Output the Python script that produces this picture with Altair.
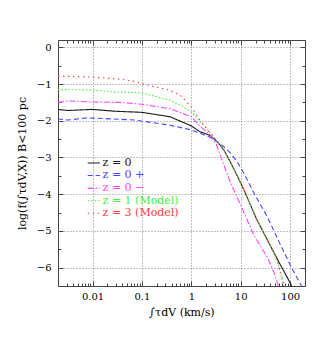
import altair as alt
import pandas as pd

# ---------------- data ----------------
series = ["z = 0", "z = 0 +", "z = 0 \u2212", "z = 1 (Model)", "z = 3 (Model)"]
colors = ["#1a1a1a", "#4646ff", "#ff46ff", "#46f046", "#ff4040"]
dashes = [[1, 0], [5, 3], [6, 2, 1.5, 2], [1.5, 2], [1.5, 3.5]]

x_z0 = [0.002, 0.00316, 0.01, 0.028, 0.1, 0.37, 1.0, 1.5, 2.4, 3.3, 4.5, 6.2, 8.5, 11.5, 21, 40, 65, 87, 102, 107]
y_z0 = [-1.69, -1.72, -1.69, -1.74, -1.77, -1.89, -2.14, -2.30, -2.40, -2.56, -2.78, -3.13, -3.50, -3.87, -4.68, -5.41, -5.95, -6.26, -6.44, -6.50]

x_zp = [0.002, 0.00316, 0.0079, 0.0178, 0.072, 0.37, 1.0, 1.5, 2.4, 3.3, 4.5, 6.2, 8.5, 11.5, 18.2, 34.7, 65, 102, 162, 170]
y_zp = [-1.95, -1.98, -1.92, -1.94, -1.98, -2.12, -2.25, -2.34, -2.45, -2.57, -2.70, -2.88, -3.12, -3.42, -3.95, -4.62, -5.40, -5.95, -6.45, -6.50]

x_zm = [0.002, 0.00316, 0.01, 0.039, 0.1, 0.37, 1.0, 1.5, 2.4, 3.16, 3.9, 5.0, 6.2, 10, 18.2, 34.7, 46.8, 55, 57.5]
y_zm = [-1.50, -1.46, -1.49, -1.50, -1.55, -1.67, -1.89, -2.15, -2.38, -2.62, -2.95, -3.35, -3.68, -4.30, -5.10, -5.72, -6.12, -6.40, -6.50]

x_z1 = [0.002, 0.01, 0.028, 0.072, 0.1, 0.37, 0.69, 1.0, 1.2, 1.5, 2.0, 2.8, 3.3, 4.5, 6.2, 8.5, 11.5, 21, 40, 55, 68, 74]
y_z1 = [-1.15, -1.16, -1.22, -1.23, -1.24, -1.44, -1.62, -1.76, -1.86, -2.02, -2.20, -2.43, -2.56, -2.78, -3.13, -3.50, -3.87, -4.68, -5.41, -5.82, -6.30, -6.50]

x_z3 = [0.002, 0.00316, 0.01, 0.039, 0.072, 0.1, 0.37, 0.6, 1.0, 1.2, 1.5, 2.0, 2.8, 3.3, 4.5, 6.2, 8.5, 11.5, 21, 40, 55, 70, 76]
y_z3 = [-0.79, -0.79, -0.81, -0.87, -0.93, -0.99, -1.17, -1.31, -1.62, -1.78, -1.98, -2.20, -2.43, -2.56, -2.78, -3.13, -3.50, -3.87, -4.68, -5.41, -5.80, -6.30, -6.50]

x_major = [0.01, 0.1, 1, 10, 100]
x_minor = [k * 10.0 ** d for d in range(-3, 3) for k in range(2, 10) if 0.002 <= k * 10.0 ** d <= 200]
y_major = [-6, -5, -4, -3, -2, -1, 0]
y_minor = [-5.5, -4.5, -3.5, -2.5, -1.5, -0.5]

leg_y = [-3.15, -3.49, -3.84, -4.18, -4.52]
leg_x0, leg_x1, leg_tx = 0.0080, 0.0141, 0.016

# ---------------- tables ----------------
rows = []
for name, xs_, ys_ in zip(series, [x_z0, x_zp, x_zm, x_z1, x_z3], [y_z0, y_zp, y_zm, y_z1, y_z3]):
    for i, (xv, yv) in enumerate(zip(xs_, ys_)):
        rows.append({"s": name, "x": xv, "y": yv, "i": i})
df = pd.DataFrame(rows)

leg_rows = []
for name, yv in zip(series, leg_y):
    leg_rows.append({"s": name, "x": leg_x0, "y": yv, "i": 0})
    leg_rows.append({"s": name, "x": leg_x1, "y": yv, "i": 1})
df_leg = pd.DataFrame(leg_rows)
df_txt = pd.DataFrame({"s": series, "x": [leg_tx] * 5, "y": leg_y})

FONT = "DejaVu Serif"
xs = alt.Scale(type="log", domain=[0.002, 200], nice=False)
ys = alt.Scale(domain=[-6.5, 0.2], nice=False, zero=False)
cs = alt.Scale(domain=series, range=colors)
ds = alt.Scale(domain=series, range=dashes)

main = alt.Chart(df).mark_line(strokeWidth=1.1, clip=True).encode(
    x=alt.X("x:Q", scale=xs, title="\u222b\u03c4dV (km/s)",
            axis=alt.Axis(orient="bottom", values=x_major, format="~g", ticks=False, domain=False,
                          grid=True, gridDash=[1, 2], gridColor="#888888", gridWidth=1,
                          labelFont=FONT, labelFontSize=10, labelPadding=5, labelColor="#000",
                          titleFont=FONT, titleFontSize=11, titleFontWeight="normal",
                          titlePadding=5, titleColor="#000")),
    y=alt.Y("y:Q", scale=ys, title="log(f(\u222b\u03c4dV,X))  B<100 pc",
            axis=alt.Axis(orient="left", values=y_major, format="d", ticks=False, domain=False,
                          grid=True, gridDash=[1, 2], gridColor="#888888", gridWidth=1,
                          labelFont=FONT, labelFontSize=10, labelPadding=7, labelColor="#000",
                          titleFont=FONT, titleFontSize=11, titleFontWeight="normal",
                          titlePadding=9, titleColor="#000")),
    color=alt.Color("s:N", scale=cs, legend=None),
    strokeDash=alt.StrokeDash("s:N", scale=ds, legend=None),
    order="i:Q",
)

leg_lines = alt.Chart(df_leg).mark_line(strokeWidth=1.1).encode(
    x=alt.X("x:Q", scale=xs, axis=None),
    y=alt.Y("y:Q", scale=ys, axis=None),
    color=alt.Color("s:N", scale=cs, legend=None),
    strokeDash=alt.StrokeDash("s:N", scale=ds, legend=None),
    order="i:Q",
)

leg_text = alt.Chart(df_txt).mark_text(align="left", baseline="middle", font=FONT, fontSize=11).encode(
    x=alt.X("x:Q", scale=xs, axis=None),
    y=alt.Y("y:Q", scale=ys, axis=None),
    text="s:N",
    color=alt.Color("s:N", scale=cs, legend=None),
)


def tick_layer(xorient, yorient, xvals, yvals, size):
    return alt.Chart(df).mark_point(opacity=0).encode(
        x=alt.X("x:Q", scale=xs, title=None,
                axis=alt.Axis(orient=xorient, values=xvals, labels=False, domain=False, grid=False,
                              ticks=True, tickSize=size, offset=-size, tickColor="#444444")),
        y=alt.Y("y:Q", scale=ys, title=None,
                axis=alt.Axis(orient=yorient, values=yvals, labels=False, domain=False, grid=False,
                              ticks=True, tickSize=size, offset=-size, tickColor="#444444")),
    )


chart = alt.layer(
    main, leg_lines, leg_text,
    tick_layer("bottom", "left", x_major, y_major, 5),
    tick_layer("bottom", "left", x_minor, y_minor, 3),
    tick_layer("top", "right", x_major, y_major, 5),
    tick_layer("top", "right", x_minor, y_minor, 3),
).resolve_axis(x="independent", y="independent").properties(
    width=247, height=246,
    padding={"left": 50, "top": 32, "right": 1, "bottom": 40},
    autosize=alt.AutoSizeParams(type="none"),
).configure_view(stroke="#444444", strokeWidth=1)

chart.save("out.html", embed_options={"renderer": "svg", "actions": False})
